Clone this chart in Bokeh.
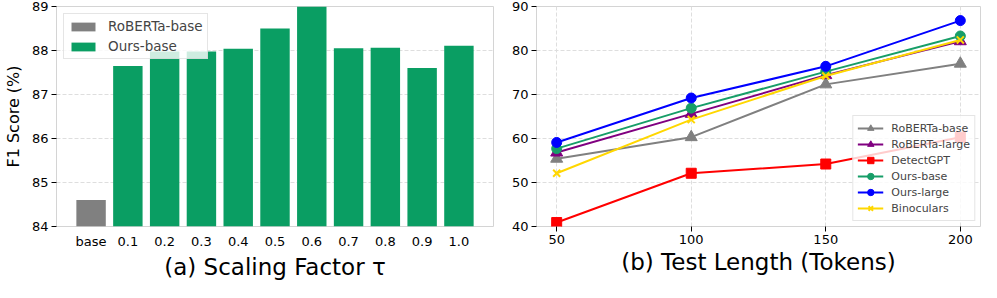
from bokeh.plotting import figure
from bokeh.layouts import row
from bokeh.models import FactorRange, Range1d, FixedTicker
from bokeh.embed import file_html
from bokeh.resources import INLINE

# ---------------- data ----------------
categories = ["base", "0.1", "0.2", "0.3", "0.4", "0.5", "0.6", "0.7", "0.8", "0.9", "1.0"]
baseline_f1 = [84.6]
ours_f1 = [87.65, 87.98, 87.98, 88.04, 88.5, 89.0, 88.05, 88.06, 87.6, 88.11]
left_yticks = [84, 85, 86, 87, 88, 89]

lengths = [50, 100, 150, 200]
roberta_base = [55.4, 60.3, 72.3, 77.0]
roberta_large = [56.8, 65.6, 74.4, 82.1]
detectgpt = [40.9, 52.1, 54.2, 60.3]
ours_base = [57.7, 66.9, 75.2, 83.3]
ours_large = [59.1, 69.2, 76.4, 86.8]
binoculars = [52.1, 64.3, 74.2, 82.4]
right_yticks = [40, 50, 60, 70, 80, 90]

FONT = "DejaVu Sans"
GREEN = "#0a9e63"
GRAY = "#808080"
SPINE = "#d4d4d4"
GRID = "#dedede"


def style(p):
    p.outline_line_color = SPINE
    p.outline_line_width = 1
    for ax in (p.xaxis[0], p.yaxis[0]):
        ax.axis_line_color = None
        ax.major_label_text_font = FONT
        ax.major_label_text_font_size = "13px"
        ax.major_label_text_color = "black"
        ax.axis_label_text_font = FONT
        ax.axis_label_text_font_style = "normal"
        ax.axis_label_text_color = "black"
        ax.minor_tick_line_color = None
        ax.major_tick_in = 0
        ax.major_tick_out = 5
        ax.major_tick_line_color = "black"
        ax.major_label_standoff = 3
    p.xaxis.axis_label_text_font_size = "23px"
    p.xaxis.axis_label_standoff = 2


# ---------------- left: bars ----------------
p1 = figure(width=495, height=282, output_backend="svg", toolbar_location=None,
            x_range=FactorRange(factors=categories, range_padding=0.08,
                                range_padding_units="percent"),
            y_range=Range1d(84, 89),
            min_border_left=48, min_border_right=2, min_border_top=6, min_border_bottom=44)
p1.vbar(x=categories[:1], top=baseline_f1, bottom=0, width=0.8, color=GRAY,
        line_color=None, legend_label="RoBERTa-base")
p1.vbar(x=categories[1:], top=ours_f1, bottom=0, width=0.8, color=GREEN,
        line_color=None, legend_label="Ours-base")
style(p1)
p1.yaxis.ticker = FixedTicker(ticks=left_yticks)
p1.yaxis.axis_label = "F1 Score (%)"
p1.yaxis.axis_label_text_font_size = "16px"
p1.yaxis.axis_label_standoff = 6
p1.xaxis.axis_label = "(a) Scaling Factor τ"
p1.xaxis.major_tick_out = 0
p1.xaxis.major_label_standoff = 7
p1.xgrid.grid_line_color = None
p1.ygrid.grid_line_color = GRID
p1.ygrid.grid_line_dash = "4 2"
p1.ygrid.ticker = FixedTicker(ticks=left_yticks)

lg1 = p1.legend[0]
lg1.location = "top_left"
lg1.margin = 7
lg1.padding = 4
lg1.spacing = 4
lg1.label_standoff = 10
lg1.glyph_width = 30
lg1.glyph_height = 11
lg1.label_height = 16
lg1.label_text_font = FONT
lg1.label_text_font_size = "13.5px"
lg1.border_line_color = "#cccccc"
lg1.border_line_width = 1
lg1.background_fill_alpha = 0.8

# ---------------- right: lines ----------------
p2 = figure(width=486, height=282, output_backend="svg", toolbar_location=None,
            x_range=Range1d(42.5, 207.5), y_range=Range1d(40, 90),
            min_border_left=41, min_border_right=1, min_border_top=6, min_border_bottom=44)

series = [
    ("RoBERTa-base", roberta_base, "#808080", "triangle", 12),
    ("RoBERTa-large", roberta_large, "#800080", "triangle", 12),
    ("DetectGPT", detectgpt, "#ff0000", "square", 10),
    ("Ours-base", ours_base, "#179e68", "circle", 10),
    ("Ours-large", ours_large, "#0000ff", "circle", 10),
    ("Binoculars", binoculars, "#ffd700", "x", 10),
]
for name, vals, col, marker, size in series:
    p2.line(lengths, vals, line_color=col, line_width=2, legend_label=name)
    p2.scatter(lengths, vals, marker=marker, size=size, fill_color=col,
               line_color=col, line_width=2 if marker == "x" else 1, legend_label=name)

style(p2)
p2.xaxis.ticker = FixedTicker(ticks=lengths)
p2.yaxis.ticker = FixedTicker(ticks=right_yticks)
p2.xaxis.axis_label = "(b) Test Length (Tokens)"
p2.xgrid.grid_line_color = GRID
p2.xgrid.grid_line_dash = "4 2"
p2.ygrid.grid_line_color = GRID
p2.ygrid.grid_line_dash = "4 2"

lg2 = p2.legend[0]
lg2.location = "bottom_right"
lg2.margin = 5
lg2.padding = 4
lg2.spacing = 0
lg2.label_standoff = 8
lg2.glyph_width = 26
lg2.glyph_height = 16
lg2.label_height = 13
lg2.label_text_font = FONT
lg2.label_text_font_size = "11px"
lg2.border_line_color = "#cccccc"
lg2.border_line_width = 1
lg2.background_fill_alpha = 0.8

layout = row(p1, p2)
open("out.html", "w").write(file_html(layout, INLINE))
